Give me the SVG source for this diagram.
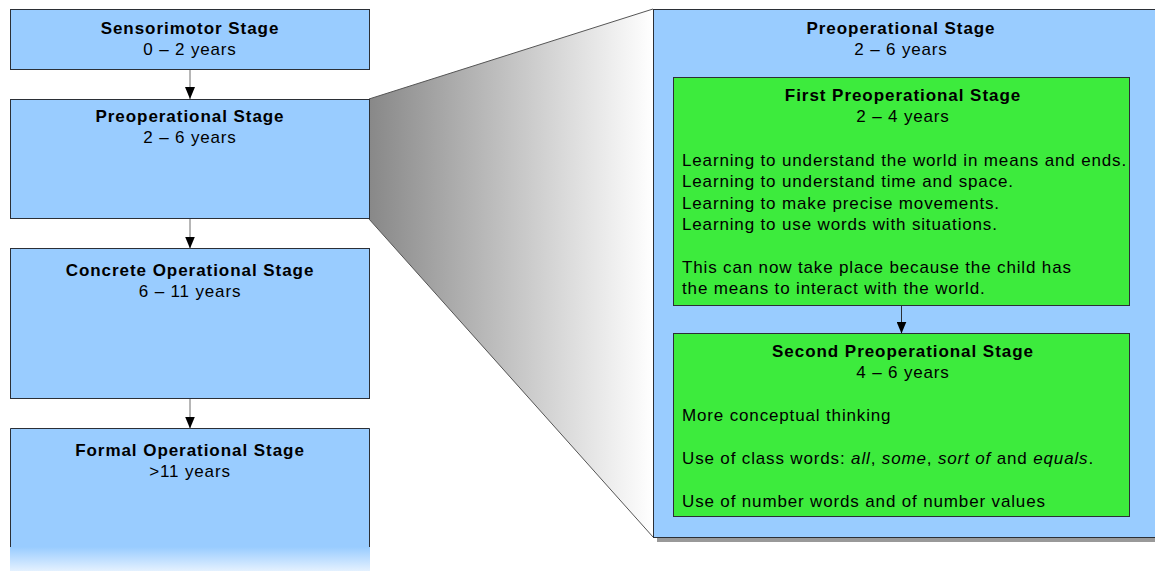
<svg xmlns="http://www.w3.org/2000/svg" width="1155" height="571" viewBox="0 0 1155 571">
  <defs>
    <style>
      .stage { fill: #99ccff; stroke: #2b2f36; stroke-width: 1; }
      .sub { fill: #3deb3d; stroke: #2b2f36; stroke-width: 1; }
      .t { font-family: "Liberation Sans", Arial, sans-serif; font-size: 17px; letter-spacing: 0.85px; fill: #000; }
      .b { font-weight: bold; letter-spacing: 0.95px; }
      .c { text-anchor: middle; }
      .link { stroke: #6e6e6e; stroke-width: 1; fill: none; }
    </style>
    <linearGradient id="zoomFan" x1="369" y1="0" x2="653" y2="0" gradientUnits="userSpaceOnUse">
      <stop offset="0" stop-color="#888888"/>
      <stop offset="1" stop-color="#ffffff"/>
    </linearGradient>
    <linearGradient id="fadeOut" x1="0" y1="0" x2="0" y2="1">
      <stop offset="0" stop-color="#99ccff"/>
      <stop offset="1" stop-color="#e4f1ff"/>
    </linearGradient>
    <marker id="arrow" viewBox="0 0 12 10" refX="12" refY="5" markerWidth="12" markerHeight="10" markerUnits="userSpaceOnUse" orient="auto">
      <path d="M0,0 L12,5 L0,10 Z" fill="#000"/>
    </marker>
  </defs>

  <!-- magnifying fan from the preoperational stage to its detail view -->
  <g id="zoom-fan">
    <polygon points="369,99 653,9 653,537 369,219" fill="url(#zoomFan)"/>
    <line x1="369" y1="99" x2="653" y2="9" stroke="#555" stroke-width="1"/>
    <line x1="369" y1="219" x2="653" y2="537" stroke="#555" stroke-width="1"/>
  </g>

  <g id="sensorimotor">
    <rect class="stage" x="10.5" y="9.5" width="359" height="60"/>
    <text class="t b c" x="190" y="34">Sensorimotor Stage</text>
    <text class="t c" x="190" y="55">0 – 2 years</text>
  </g>

  <g id="preoperational">
    <rect class="stage" x="10.5" y="99.5" width="359" height="119"/>
    <text class="t b c" x="190" y="122">Preoperational Stage</text>
    <text class="t c" x="190" y="143">2 – 6 years</text>
  </g>

  <g id="concrete">
    <rect class="stage" x="10.5" y="248.5" width="359" height="150"/>
    <text class="t b c" x="190" y="276">Concrete Operational Stage</text>
    <text class="t c" x="190" y="297">6 – 11 years</text>
  </g>

  <g id="formal">
    <rect x="10" y="547" width="360" height="24" fill="url(#fadeOut)"/>
    <rect x="10" y="428" width="360" height="119" fill="#99ccff"/>
    <path d="M10.5,547 V428.5 H369.5 V547" fill="none" stroke="#2b2f36" stroke-width="1"/>
    <text class="t b c" x="190" y="456">Formal Operational Stage</text>
    <text class="t c" x="190" y="477">&gt;11 years</text>
  </g>

  <g id="preoperational-detail">
    <rect x="657" y="13" width="510" height="529" fill="#999"/>
    <rect class="stage" x="653.5" y="9.5" width="510" height="528"/>
    <text class="t b c" x="901" y="34">Preoperational Stage</text>
    <text class="t c" x="901" y="55">2 – 6 years</text>
  </g>

  <g id="first-preoperational">
    <rect class="sub" x="673.5" y="77.5" width="456" height="228"/>
    <text class="t b c" x="903" y="101">First Preoperational Stage</text>
    <text class="t c" x="903" y="122">2 – 4 years</text>
    <text class="t" x="682" y="166">Learning to understand the world in means and ends.</text>
    <text class="t" x="682" y="187">Learning to understand time and space.</text>
    <text class="t" x="682" y="208.5">Learning to make precise movements.</text>
    <text class="t" x="682" y="230">Learning to use words with situations.</text>
    <text class="t" x="682" y="272.5">This can now take place because the child has</text>
    <text class="t" x="682" y="293.5">the means to interact with the world.</text>
  </g>

  <g id="second-preoperational">
    <rect class="sub" x="673.5" y="333.5" width="456" height="183"/>
    <text class="t b c" x="903" y="357">Second Preoperational Stage</text>
    <text class="t c" x="903" y="378">4 – 6 years</text>
    <text class="t" x="682" y="421">More conceptual thinking</text>
    <text class="t" x="682" y="463.5">Use of class words: <tspan font-style="italic">all</tspan>, <tspan font-style="italic">some</tspan>, <tspan font-style="italic">sort of</tspan> and <tspan font-style="italic">equals</tspan>.</text>
    <text class="t" x="682" y="506.5">Use of number words and of number values</text>
  </g>

  <!-- arrows drawn last so the detail panel does not cover them -->
  <g id="connectors">
    <line class="link" x1="190" y1="70" x2="190" y2="99" marker-end="url(#arrow)"/>
    <line class="link" x1="190" y1="219" x2="190" y2="248.5" marker-end="url(#arrow)"/>
    <line class="link" x1="190" y1="399" x2="190" y2="428.5" marker-end="url(#arrow)"/>
    <line x1="901.5" y1="306" x2="901.5" y2="333.5" stroke="#2b2f36" stroke-width="1" marker-end="url(#arrow)"/>
  </g>
</svg>
